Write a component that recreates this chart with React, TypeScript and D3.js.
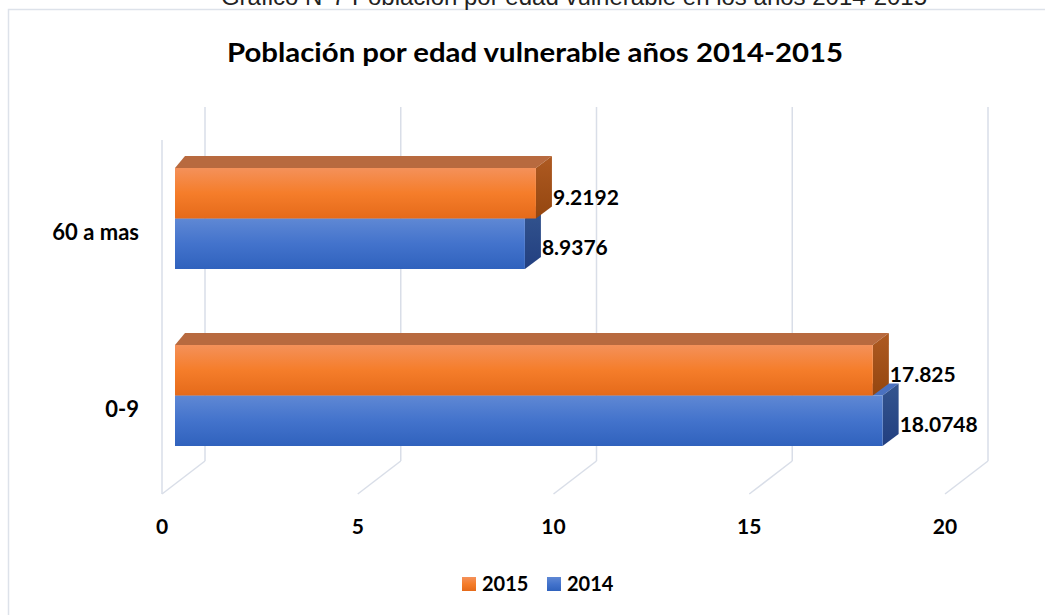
import React, { useRef, useEffect } from "react";
import * as d3 from "d3";

const categories = ["60 a mas", "0-9"];
const series = ["2015", "2014"];
const values2015 = [9.2192, 17.825];
const values2014 = [8.9376, 18.0748];
const xTicks = [0, 5, 10, 15, 20];

const W = 1045;
const H = 615;
const FONT = "Lato, 'Open Sans', sans-serif";

const App = () => {
  const svgRef = useRef<SVGSVGElement>(null);

  useEffect(() => {
    const svg = d3.select(svgRef.current);
    svg.selectAll("*").remove();

    const x = d3.scaleLinear().domain([0, 20]).range([162, 945]);
    const y = d3
      .scaleBand()
      .domain(categories)
      .range([130, 484])
      .paddingInner(0.4294)
      .paddingOuter(0.2147);
    const ys = d3.scaleBand().domain(series).range([0, y.bandwidth()]);

    // 3d offsets
    const depth = { x: 43, y: -33 };
    const floorY = 494;
    const wallH = 354;
    const barShift = 13;
    const barBack = { left: 10, right: 16, dy: -12 };

    const defs = svg.append("defs");
    const grad = (id, stops) => {
      const g = defs
        .append("linearGradient")
        .attr("id", id)
        .attr("x1", 0)
        .attr("y1", 0)
        .attr("x2", 0)
        .attr("y2", 1);
      stops.forEach(([o, c]) => g.append("stop").attr("offset", o).attr("stop-color", c));
    };
    grad("orangeFront", [["0%", "#F4915A"], ["50%", "#F57D2A"], ["100%", "#E56A1A"]]);
    grad("orangeSide", [["0%", "#AE5A22"], ["100%", "#94460F"]]);
    grad("blueFront", [["0%", "#5F88D4"], ["50%", "#4373CC"], ["100%", "#3062BD"]]);
    grad("blueSide", [["0%", "#34558F"], ["100%", "#223F80"]]);

    const colors = {
      "2015": { front: "url(#orangeFront)", side: "url(#orangeSide)", top: "#B86A3F" },
      "2014": { front: "url(#blueFront)", side: "url(#blueSide)", top: "#4A71C0" },
    };

    // outer border + caption
    svg
      .append("rect")
      .attr("x", 8.5)
      .attr("y", 9.5)
      .attr("width", W)
      .attr("height", H)
      .attr("fill", "white")
      .attr("stroke", "#DDE2EA")
      .attr("stroke-width", 1.5);

    svg
      .append("text")
      .attr("x", 574)
      .attr("y", 5)
      .attr("text-anchor", "middle")
      .attr("font-family", "'Liberation Sans', Arial, sans-serif")
      .attr("font-size", 24)
      .attr("fill", "#222")
      .text("Gráfico N°7 Población por edad vulnerable en los años 2014-2015");

    svg
      .append("text")
      .attr("x", 535)
      .attr("y", 62)
      .attr("text-anchor", "middle")
      .attr("font-family", FONT)
      .attr("font-weight", "bold")
      .attr("font-size", 26)
      .attr("textLength", 616)
      .attr("lengthAdjust", "spacingAndGlyphs")
      .attr("fill", "#000")
      .text("Población por edad vulnerable años 2014-2015");

    // grid: back wall, floor diagonals, left wall edge
    const grid = svg.append("g").attr("stroke", "#D9DEE8").attr("stroke-width", 1.5).attr("fill", "none");
    xTicks.forEach((t) => {
      const bx = x(t) + depth.x;
      const by = floorY + depth.y;
      grid.append("line").attr("x1", bx).attr("x2", bx).attr("y1", by - wallH).attr("y2", by);
      grid.append("line").attr("x1", bx).attr("x2", x(t)).attr("y1", by).attr("y2", floorY);
    });
    grid
      .append("line")
      .attr("x1", x(0))
      .attr("x2", x(0))
      .attr("y1", floorY - wallH)
      .attr("y2", floorY);

    // bars
    const bars = svg.append("g");
    const drawBar = (cat, s, v) => {
      const x0 = x(0) + barShift;
      const x1 = x(v) + barShift;
      const yt = y(cat) + ys(s);
      const yb = yt + ys.bandwidth();
      const c = colors[s];
      bars
        .append("polygon")
        .attr("points", [[x0, yt], [x1, yt], [x1 + barBack.right, yt + barBack.dy], [x0 + barBack.left, yt + barBack.dy]].join(" "))
        .attr("fill", c.top);
      bars
        .append("polygon")
        .attr("points", [[x1, yt], [x1 + barBack.right, yt + barBack.dy], [x1 + barBack.right, yb + barBack.dy], [x1, yb]].join(" "))
        .attr("fill", c.side);
      bars
        .append("rect")
        .attr("x", x0)
        .attr("y", yt)
        .attr("width", x1 - x0)
        .attr("height", yb - yt)
        .attr("fill", c.front);
      return { x: x1 + barBack.right, y: (yt + yb) / 2 + 3, v };
    };

    const labels = [];
    categories.forEach((cat, i) => {
      labels.push(drawBar(cat, "2014", values2014[i]));
      labels.push(drawBar(cat, "2015", values2015[i]));
    });

    svg
      .append("g")
      .selectAll("text")
      .data(labels)
      .enter()
      .append("text")
      .attr("x", (d) => d.x + 1)
      .attr("y", (d) => d.y)
      .attr("dominant-baseline", "central")
      .attr("font-family", FONT)
      .attr("font-weight", "bold")
      .attr("font-size", 21)
      .text((d) => String(d.v));

    // category labels
    svg
      .append("g")
      .selectAll("text")
      .data(categories)
      .enter()
      .append("text")
      .attr("x", 139)
      .attr("y", (d) => y(d) + y.bandwidth() / 2 + 13)
      .attr("text-anchor", "end")
      .attr("dominant-baseline", "central")
      .attr("font-family", FONT)
      .attr("font-weight", "bold")
      .attr("font-size", 22)
      .text((d) => d);

    // x tick labels
    svg
      .append("g")
      .selectAll("text")
      .data(xTicks)
      .enter()
      .append("text")
      .attr("x", (d) => x(d))
      .attr("y", 525)
      .attr("text-anchor", "middle")
      .attr("dominant-baseline", "central")
      .attr("font-family", FONT)
      .attr("font-weight", "bold")
      .attr("font-size", 21)
      .text((d) => d);

    // legend
    const legend = svg.append("g");
    const legendX = { "2015": 462, "2014": 547 };
    series.forEach((s) => {
      legend
        .append("rect")
        .attr("x", legendX[s])
        .attr("y", 577)
        .attr("width", 14)
        .attr("height", 14)
        .attr("fill", colors[s].front);
      legend
        .append("text")
        .attr("x", legendX[s] + 20)
        .attr("y", 591)
        .attr("font-family", FONT)
        .attr("font-weight", "bold")
        .attr("font-size", 20)
        .text(s);
    });
  }, []);

  return (
    <svg
      ref={svgRef}
      width={W}
      height={H}
      style={{ position: "absolute", left: 0, top: 0, display: "block" }}
    />
  );
};

export default App;
